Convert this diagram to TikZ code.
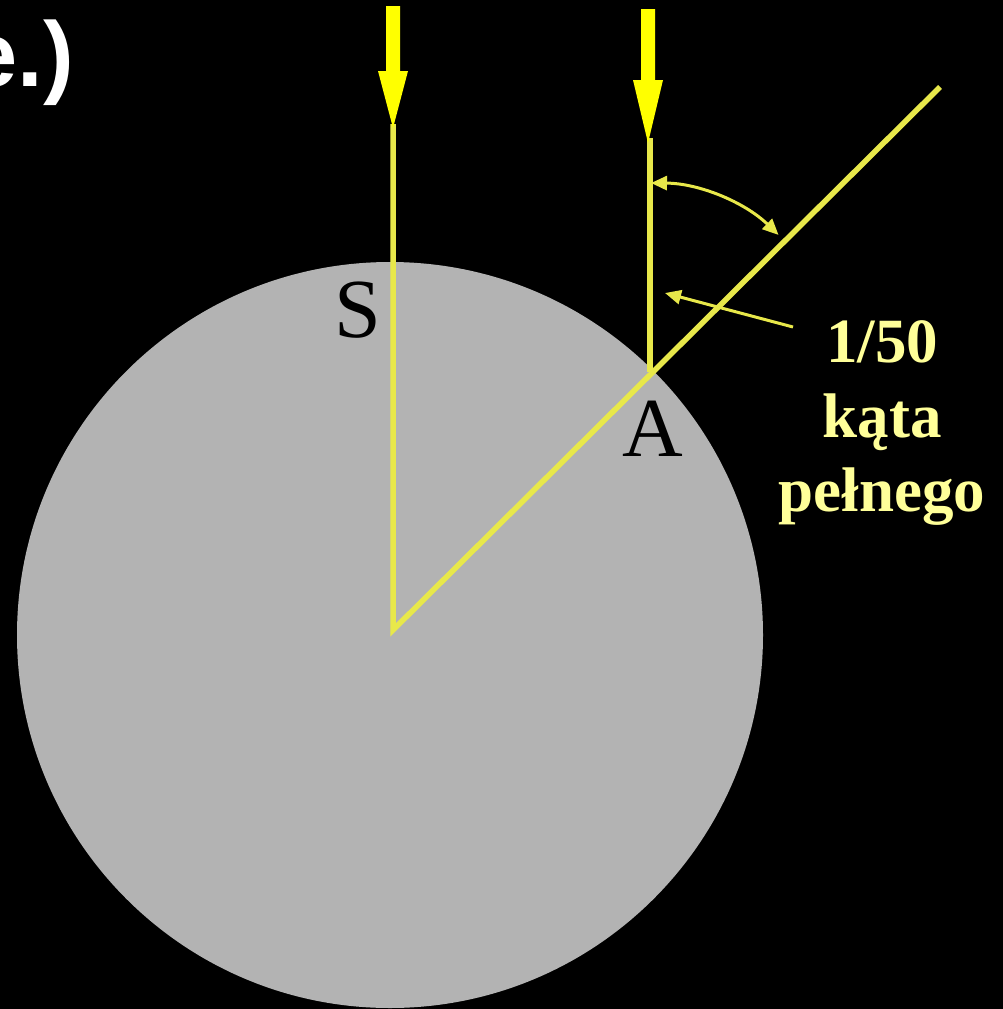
\documentclass[tikz,border=0pt]{standalone}
\usepackage{fontspec}
\setmainfont{Liberation Serif}
\newfontfamily\sansb{Liberation Sans}
\usetikzlibrary{arrows.meta}
\definecolor{disc}{HTML}{B3B3B3}
\definecolor{ray}{HTML}{E8E84A}
\definecolor{sun}{HTML}{FFFF00}
\definecolor{lbl}{HTML}{FFFF99}
\tikzset{
  rayline/.style={draw=ray, line width=5.5pt, line cap=butt},
  bigarrow/.style={fill=sun},
  pointer/.style={draw=ray, line width=3pt, -{Triangle[length=16pt,width=14pt]}},
  anglearc/.style={draw=ray, line width=3pt, {Triangle[length=16pt,width=14pt]}-{Triangle[length=16pt,width=14pt]}},
  caption/.style={text=lbl, font=\fontsize{63}{70}\selectfont\bfseries, inner sep=0pt, anchor=base},
  letter/.style={text=black, font=\fontsize{84}{90}\selectfont, inner sep=0pt, anchor=base}
}
\begin{document}
\begin{tikzpicture}[x=1pt,y=-1pt]
\fill[black] (0,0) rectangle (1003,1009);
\useasboundingbox (0,0) rectangle (1003,1009);
% disc
\fill[disc] (390,635) circle[radius=373pt];
% coordinates
\coordinate (O) at (393,630);
\coordinate (A) at (650,372);
\coordinate (T) at (940,87);
\coordinate (S0) at (393,124);
\coordinate (A0) at (650,138);
\coordinate (P1) at (793,327);
\coordinate (P2) at (665,293);
% rays
\draw[rayline] (S0) -- (O) -- (T);
\draw[rayline] (A0) -- (A);
% sun arrows
\fill[bigarrow] (386,6) -- (400,6) -- (400,71) -- (408,71) -- (393,128) -- (378,71) -- (386,71) -- cycle;
\fill[bigarrow] (641,9) -- (655,9) -- (655,80) -- (663,80) -- (648,143) -- (633,80) -- (641,80) -- cycle;
% angle arc
\draw[anglearc] (A) ++(89.7:189pt) arc[start angle=89.7, end angle=46, radius=185pt];
% pointer
\draw[pointer] (P1) -- (P2);
% labels
\node[letter] (s) at (358,337) {S};
\node[letter] (a) at (653,456) {A};
\node[caption] (c1) at (882,362) {1/50};
\node[caption] (c2) at (882,437) {kąta};
\node[caption] (c3) at (882,511) {pełnego};
\node[text=white, font=\sansb\fontsize{92}{100}\selectfont\bfseries, inner sep=0pt, anchor=base east] (e) at (74,86) {e.)};
\end{tikzpicture}
\end{document}
